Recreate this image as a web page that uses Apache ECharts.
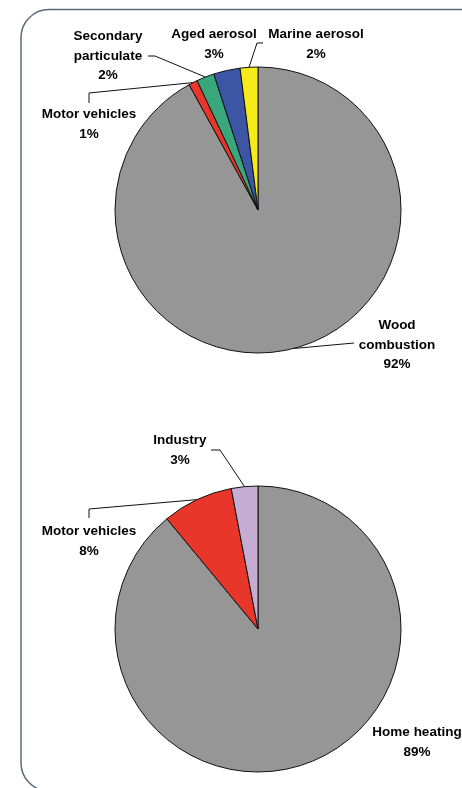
<!DOCTYPE html>
<html>
<head>
<meta charset="utf-8">
<script src="https://cdn.jsdelivr.net/npm/echarts@6/dist/echarts.min.js"></script>
<style>
  html, body { margin: 0; padding: 0; background: #fff; }
  #chart { width: 462px; height: 788px; }
</style>
</head>
<body>
<div id="chart"></div>
<script>
// Source apportionment: receptor-model sources (top) and emission inventory (bottom)
const sourceNames = ['Wood\ncombustion', 'Motor vehicles', 'Secondary\nparticulate', 'Aged aerosol', 'Marine aerosol'];
const sourceShares = [92, 1, 2, 3, 2];
const sourceColors = ['#969696', '#e8372a', '#3aa67c', '#3c55a5', '#f6ea18'];

const sectorNames = ['Home heating', 'Motor vehicles', 'Industry'];
const sectorShares = [89, 8, 3];
const sectorColors = ['#969696', '#e8372a', '#c6acd2'];

// Label anchor (centre x, top y) and leader-line bends for each slice
const sourceLabelPos = [
  { x: 397, y: 316, bends: [[354, 343]] },
  { x: 89, y: 105, bends: [[89, 93], [89, 103]] },
  { x: 108, y: 27, bends: [[155, 56], [148, 56]] },
  { x: 214, y: 25, bends: null },
  { x: 316, y: 25, bends: [[257, 43], [263, 43]] }
];
const sectorLabelPos = [
  { x: 417, y: 723, bends: null },
  { x: 89, y: 522, bends: [[89, 509], [89, 518]] },
  { x: 180, y: 431, bends: [[220, 450], [211, 450]] }
];

function buildData(names, values, colors) {
  return names.map((n, i) => ({ name: n, value: values[i], itemStyle: { color: colors[i] } }));
}

function layoutFor(pos) {
  return function (params) {
    const p = pos[params.dataIndex];
    const out = {
      x: p.x,
      y: p.y,
      align: 'center',
      verticalAlign: 'top'
    };
    if (p.bends && params.labelLinePoints) {
      out.labelLinePoints = [params.labelLinePoints[0]].concat(p.bends);
    } else if (params.labelLinePoints) {
      const s = params.labelLinePoints[0];
      out.labelLinePoints = [s, s, s];
    }
    return out;
  };
}

const labelStyle = {
  show: true,
  position: 'outside',
  formatter: '{b}\n{c}%',
  fontFamily: '"Liberation Sans", Arial, sans-serif',
  fontWeight: 'bold',
  fontSize: 13.5,
  lineHeight: 19.5,
  color: '#000',
  align: 'center'
};

function pieSeries(data, centerY, pos) {
  return {
    type: 'pie',
    radius: 143,
    center: [258, centerY],
    startAngle: 90,
    clockwise: true,
    animation: false,
    silent: true,
    avoidLabelOverlap: false,
    data: data,
    itemStyle: { borderColor: '#111', borderWidth: 1 },
    label: labelStyle,
    labelLine: {
      show: true,
      length: 10,
      length2: 10,
      lineStyle: { color: '#111', width: 1 }
    },
    labelLayout: layoutFor(pos)
  };
}

const chart = echarts.init(document.getElementById('chart'), null, { renderer: 'canvas' });
chart.setOption({
  backgroundColor: '#ffffff',
  graphic: [{
    type: 'rect',
    shape: { x: 21, y: 9.5, width: 480, height: 781.5, r: 28 },
    style: { fill: 'none', stroke: '#5b6b79', lineWidth: 1.5 },
    silent: true,
    z: -1
  }],
  series: [
    pieSeries(buildData(sourceNames, sourceShares, sourceColors), 210, sourceLabelPos),
    pieSeries(buildData(sectorNames, sectorShares, sectorColors), 629, sectorLabelPos)
  ]
});
</script>
</body>
</html>
